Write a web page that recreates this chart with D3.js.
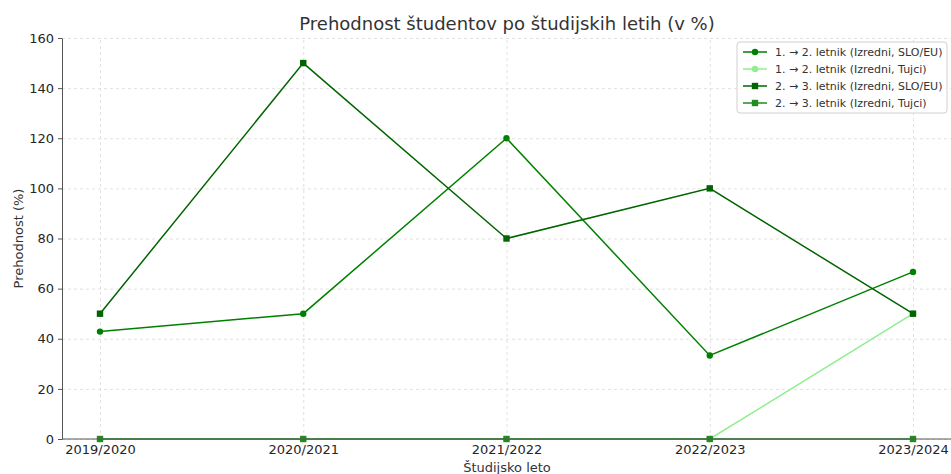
<!DOCTYPE html>
<html>
<head>
<meta charset="utf-8">
<script src="https://cdn.jsdelivr.net/npm/d3@7"></script>
<style>
  body { margin: 0; background: #fff; }
  svg { font-family: "DejaVu Sans", sans-serif; }
  .grid line { stroke: #d9d9d9; stroke-dasharray: 3,3; stroke-width: 0.8; }
  .grid path { display: none; }
  .axis path, .axis line { stroke: #555; }
</style>
</head>
<body>
<div id="chart"></div>
<script>
const years = ["2019/2020", "2020/2021", "2021/2022", "2022/2023", "2023/2024"];
const yTicks = [0, 20, 40, 60, 80, 100, 120, 140, 160];

const prvi_slo = [42.86, 50, 120, 33.33, 66.67];
const prvi_tujci = [0, 0, 0, 0, 50];
const drugi_slo = [50, 150, 80, 100, 50];
const drugi_tujci = [0, 0, 0, 0, 0];

const series = [
  { name: "1. → 2. letnik (Izredni, SLO/EU)", values: prvi_slo, color: "#008000", marker: "circle" },
  { name: "1. → 2. letnik (Izredni, Tujci)", values: prvi_tujci, color: "#90ee90", marker: "circle" },
  { name: "2. → 3. letnik (Izredni, SLO/EU)", values: drugi_slo, color: "#006400", marker: "square" },
  { name: "2. → 3. letnik (Izredni, Tujci)", values: drugi_tujci, color: "#228b22", marker: "square" },
];

const width = 951;
const height = 474;
const margin = { top: 38, right: 0, bottom: 35, left: 62 };

const svg = d3.select("#chart")
  .append("svg")
  .attr("width", width)
  .attr("height", height);

const xScale = d3.scalePoint()
  .domain(years)
  .range([100, 913]);

const yScale = d3.scaleLinear()
  .domain([0, 160])
  .range([height - margin.bottom, margin.top]);

// gridlines
svg.append("g")
  .attr("class", "grid")
  .attr("transform", `translate(${margin.left}, 0)`)
  .call(d3.axisLeft(yScale).tickValues(yTicks).tickFormat("").tickSize(-(width - margin.left)));

svg.append("g")
  .attr("class", "grid")
  .attr("transform", `translate(0, ${height - margin.bottom})`)
  .call(d3.axisBottom(xScale).tickFormat("").tickSize(-(height - margin.bottom - margin.top)));

// lines + markers
const line = d3.line()
  .x((d, i) => xScale(years[i]))
  .y((d) => yScale(d));

series.forEach((s) => {
  const g = svg.append("g");
  g.append("path")
    .datum(s.values)
    .attr("fill", "none")
    .attr("stroke", s.color)
    .attr("stroke-width", 1.5)
    .attr("d", line);

  if (s.marker === "circle") {
    g.selectAll("circle")
      .data(s.values)
      .join("circle")
      .attr("cx", (d, i) => xScale(years[i]))
      .attr("cy", (d) => yScale(d))
      .attr("r", 3.2)
      .attr("fill", s.color);
  } else {
    g.selectAll("rect")
      .data(s.values)
      .join("rect")
      .attr("x", (d, i) => xScale(years[i]) - 3.2)
      .attr("y", (d) => yScale(d) - 3.2)
      .attr("width", 6.4)
      .attr("height", 6.4)
      .attr("fill", s.color);
  }
});

// axes (left + bottom spines only)
const yAxis = svg.append("g")
  .attr("class", "axis")
  .attr("transform", `translate(${margin.left}, 0)`)
  .call(d3.axisLeft(yScale).tickValues(yTicks).tickSize(4).tickPadding(4).tickSizeOuter(0));

const xAxis = svg.append("g")
  .attr("class", "axis")
  .attr("transform", `translate(0, ${height - margin.bottom})`)
  .call(d3.axisBottom(xScale).tickSize(0).tickPadding(6).tickSizeOuter(0));
xAxis.select(".domain").attr("d", `M${margin.left},0H${width}`);

[xAxis, yAxis].forEach((ax) => {
  ax.attr("font-family", null).attr("font-size", null);
  ax.selectAll("text")
    .style("font-family", "'DejaVu Sans', sans-serif")
    .style("font-size", "13px")
    .attr("fill", "#262626");
});

// labels
svg.append("text")
  .attr("x", 507)
  .attr("y", 30)
  .attr("text-anchor", "middle")
  .attr("fill", "#333")
  .style("font-size", "18px")
  .text("Prehodnost študentov po študijskih letih (v %)");

svg.append("text")
  .attr("x", 507)
  .attr("y", 472)
  .attr("text-anchor", "middle")
  .attr("fill", "#333")
  .style("font-size", "13px")
  .text("Študijsko leto");

svg.append("text")
  .attr("transform", `translate(23, ${(height - margin.bottom + margin.top) / 2}) rotate(-90)`)
  .attr("text-anchor", "middle")
  .attr("fill", "#333")
  .style("font-size", "13px")
  .text("Prehodnost (%)");

// legend
const legend = svg.append("g").attr("transform", "translate(737, 42)");
legend.append("rect")
  .attr("width", 210)
  .attr("height", 71)
  .attr("rx", 3)
  .attr("fill", "#fff")
  .attr("fill-opacity", 0.85)
  .attr("stroke", "#d0d0d0");

series.forEach((s, i) => {
  const row = legend.append("g").attr("transform", `translate(0, ${10 + i * 17})`);
  row.append("line")
    .attr("x1", 6).attr("x2", 30)
    .attr("stroke", s.color)
    .attr("stroke-width", 1.5);
  if (s.marker === "circle") {
    row.append("circle").attr("cx", 18).attr("r", 3.2).attr("fill", s.color);
  } else {
    row.append("rect").attr("x", 14.8).attr("y", -3.2).attr("width", 6.4).attr("height", 6.4).attr("fill", s.color);
  }
  row.append("text")
    .attr("x", 38)
    .attr("dy", "0.35em")
    .attr("fill", "#333")
    .style("font-size", "11px")
    .text(s.name);
});
</script>
</body>
</html>
